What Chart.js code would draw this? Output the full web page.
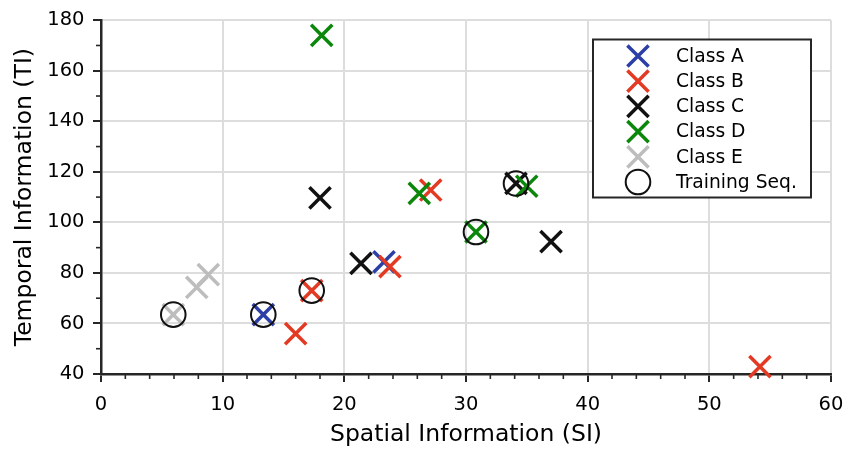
<!DOCTYPE html>
<html>
<head>
<meta charset="utf-8">
<script src="https://cdn.jsdelivr.net/npm/chart.js@4.4.1/dist/chart.umd.min.js"></script>
<style>
  html, body { margin: 0; padding: 0; background: #ffffff; }
  #wrap { width: 859px; height: 450px; }
</style>
</head>
<body>
<div id="wrap"><canvas id="c" width="859" height="450"></canvas></div>
<script>
// ---- data ----
const classLabels = ['Class A', 'Class B', 'Class C', 'Class D', 'Class E'];
const classColors = ['#2c3fa6', '#e33a24', '#111111', '#0b870b', '#bdbdbd'];

const classA_SI = [13.34, 23.26];
const classA_TI = [63.5, 84.4];

const classB_SI = [16.0, 17.32, 23.75, 27.1, 54.16];
const classB_TI = [56.0, 73.0, 82.5, 112.8, 42.9];

const classC_SI = [18.0, 21.37, 34.11, 36.99];
const classC_TI = [109.7, 83.8, 115.4, 92.4];

const classD_SI = [18.14, 26.16, 30.82, 34.99];
const classD_TI = [174.0, 111.5, 96.2, 114.3];

const classE_SI = [5.94, 7.87, 8.82];
const classE_TI = [63.5, 74.3, 79.3];

const training_SI = [5.94, 13.34, 17.32, 30.82, 34.11];
const training_TI = [63.5, 63.5, 73.0, 96.2, 115.4];
const trainingLabel = 'Training Seq.';

const xTicksMajor = [0, 10, 20, 30, 40, 50, 60];
const yTicksMajor = [40, 60, 80, 100, 120, 140, 160, 180];
const xTitle = 'Spatial Information (SI)';
const yTitle = 'Temporal Information (TI)';

// ---- build datasets ----
function pts(xs, ys) { return xs.map((x, i) => ({ x: x, y: ys[i] })); }
const classSeries = [
  pts(classA_SI, classA_TI),
  pts(classB_SI, classB_TI),
  pts(classC_SI, classC_TI),
  pts(classD_SI, classD_TI),
  pts(classE_SI, classE_TI)
];

const FONT = "'DejaVu Sans', 'Liberation Sans', sans-serif";
const X_RADIUS = 15, X_WIDTH = 3.5;
const O_RADIUS = 12.3, O_WIDTH = 2;

const datasets = classSeries.map((d, i) => ({
  label: classLabels[i],
  data: d,
  pointStyle: 'crossRot',
  pointRadius: X_RADIUS,
  pointHoverRadius: X_RADIUS,
  pointBorderWidth: X_WIDTH,
  pointHoverBorderWidth: X_WIDTH,
  borderColor: classColors[i],
  backgroundColor: classColors[i],
  showLine: false,
  clip: false,
  order: 5 - i
}));
datasets.push({
  label: trainingLabel,
  data: pts(training_SI, training_TI),
  pointStyle: 'circle',
  pointRadius: O_RADIUS,
  pointHoverRadius: O_RADIUS,
  pointBorderWidth: O_WIDTH,
  pointHoverBorderWidth: O_WIDTH,
  borderColor: '#111111',
  backgroundColor: 'rgba(0,0,0,0)',
  showLine: false,
  clip: false,
  order: 0
});

// ---- minor ticks plugin ----
const minorTicks = {
  id: 'minorTicks',
  beforeDatasetsDraw(chart) {
    const ctx = chart.ctx;
    const xs = chart.scales.x, ys = chart.scales.y;
    const area = chart.chartArea;
    ctx.save();
    ctx.strokeStyle = '#262626';
    ctx.lineWidth = 1.6;
    for (let v = xs.min; v <= xs.max + 1e-9; v += 2) {
      if (Math.abs(v % 10) < 1e-9) continue;
      const px = xs.getPixelForValue(v);
      ctx.beginPath();
      ctx.moveTo(px, area.bottom);
      ctx.lineTo(px, area.bottom + 5);
      ctx.stroke();
    }
    for (let v = ys.min; v <= ys.max + 1e-9; v += 10) {
      if (Math.abs(v % 20) < 1e-9) continue;
      const py = ys.getPixelForValue(v);
      ctx.beginPath();
      ctx.moveTo(area.left, py);
      ctx.lineTo(area.left - 5, py);
      ctx.stroke();
    }
    ctx.restore();
  }
};

// ---- boxed legend plugin (matplotlib-like) ----
const boxLegend = {
  id: 'boxLegend',
  afterDraw(chart) {
    const ctx = chart.ctx;
    const bx = 593, by = 39.5, bw = 218, bh = 158;
    const markerX = 638, textX = 676, firstY = 56, rowH = 25.2;
    ctx.save();
    ctx.fillStyle = '#ffffff';
    ctx.fillRect(bx, by, bw, bh);
    ctx.strokeStyle = '#262626';
    ctx.lineWidth = 2;
    ctx.strokeRect(bx, by, bw, bh);
    chart.data.datasets.forEach((ds, i) => {
      const y = firstY + i * rowH;
      ctx.strokeStyle = ds.borderColor;
      if (ds.pointStyle === 'crossRot') {
        const o = X_RADIUS * Math.SQRT1_2;
        ctx.lineWidth = X_WIDTH;
        ctx.beginPath();
        ctx.moveTo(markerX - o, y - o); ctx.lineTo(markerX + o, y + o);
        ctx.moveTo(markerX + o, y - o); ctx.lineTo(markerX - o, y + o);
        ctx.stroke();
      } else {
        ctx.lineWidth = O_WIDTH;
        ctx.beginPath();
        ctx.arc(markerX, y, O_RADIUS, 0, Math.PI * 2);
        ctx.stroke();
      }
      ctx.fillStyle = '#000000';
      ctx.font = '18.7px ' + FONT;
      ctx.textAlign = 'left';
      ctx.textBaseline = 'middle';
      ctx.fillText(ds.label, textX, y + 1);
    });
    ctx.restore();
  }
};

new Chart(document.getElementById('c'), {
  type: 'scatter',
  data: { datasets: datasets },
  plugins: [minorTicks, boxLegend],
  options: {
    responsive: false,
    devicePixelRatio: 1,
    animation: false,
    events: [],
    layout: { padding: { top: 18, right: 28, left: 0, bottom: 0 } },
    plugins: { legend: { display: false }, tooltip: { enabled: false } },
    scales: {
      x: {
        type: 'linear',
        min: xTicksMajor[0],
        max: xTicksMajor[xTicksMajor.length - 1],
        afterFit(s) { s.height = 76; },
        afterBuildTicks(s) { s.ticks = xTicksMajor.map(v => ({ value: v })); },
        ticks: { font: { family: FONT, size: 19.5 }, color: '#000000', padding: 11, maxRotation: 0, autoSkip: false },
        grid: { color: '#dddddd', lineWidth: 2, drawTicks: true, tickLength: 8, tickColor: '#262626', tickWidth: 2 },
        border: { display: true, color: '#262626', width: 2.5 },
        title: { display: true, text: xTitle, font: { family: FONT, size: 23.5 }, color: '#000000', padding: { top: 0, bottom: 1.2 } }
      },
      y: {
        type: 'linear',
        min: yTicksMajor[0],
        max: yTicksMajor[yTicksMajor.length - 1],
        afterFit(s) { s.width = 101; },
        afterBuildTicks(s) { s.ticks = yTicksMajor.map(v => ({ value: v })); },
        ticks: { font: { family: FONT, size: 19.5 }, color: '#000000', padding: 8.5, autoSkip: false },
        grid: { color: '#dddddd', lineWidth: 2, drawTicks: true, tickLength: 8, tickColor: '#262626', tickWidth: 2 },
        border: { display: true, color: '#262626', width: 2.5 },
        title: { display: true, text: yTitle, font: { family: FONT, size: 23.5 }, color: '#000000', padding: { top: 10.5, bottom: 0 } }
      }
    }
  }
});
</script>
</body>
</html>
